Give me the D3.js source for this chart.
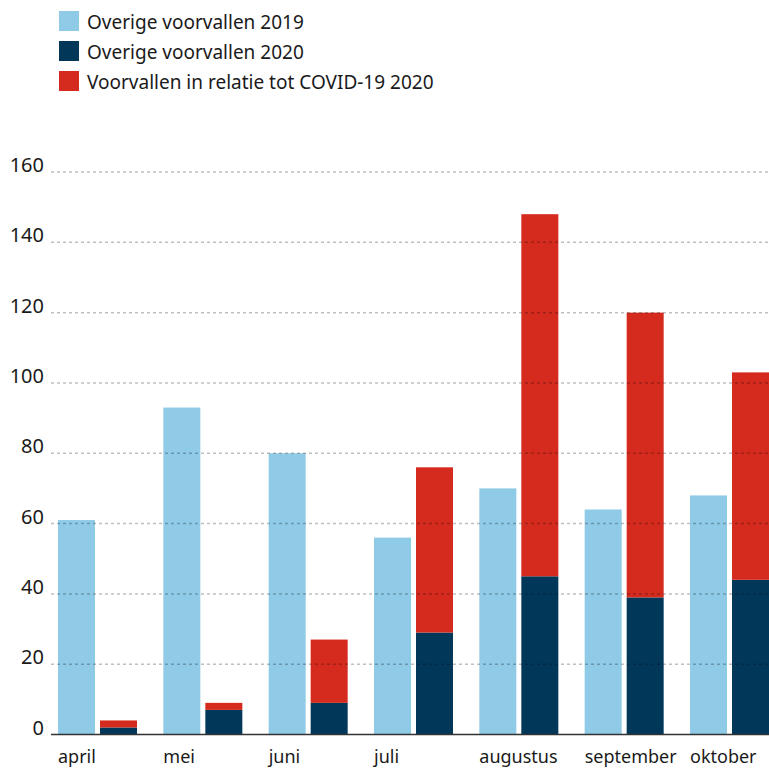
<!DOCTYPE html>
<html><head><meta charset="utf-8">
<script src="https://cdn.jsdelivr.net/npm/d3@7"></script>
<style>body{margin:0;background:#fff}svg{display:block;font-family:"Noto Sans",sans-serif}</style>
</head><body><svg id="c" width="769" height="769"></svg>
<script>
const months = ["april","mei","juni","juli","augustus","september","oktober"];
const overige2019 = [61, 93, 80, 56, 70, 64, 68];
const overige2020 = [2, 7, 9, 29, 45, 39, 44];
const covid2020 = [2, 2, 18, 47, 103, 81, 59];
const yTicks = [0, 20, 40, 60, 80, 100, 120, 140, 160];
const legendLabels = ["Overige voorvallen 2019","Overige voorvallen 2020","Voorvallen in relatie tot COVID-19 2020"];
const colors = ["#8FCAE6","#01385A","#D52B1E"];

const svg = d3.select("#c");
const y = d3.scaleLinear().domain([0,160]).range([734.5,172]);
const x = d3.scaleBand().domain(months).range([58,769]).paddingInner(0.25).paddingOuter(0);

// legend
const lg = svg.append("g");
legendLabels.forEach((t,i)=>{
  lg.append("rect").attr("x",59).attr("y",11+i*30).attr("width",20).attr("height",20).attr("fill",colors[i]);
  lg.append("text").attr("x",87).attr("y",29+i*30).attr("font-size",19).attr("fill","#1a1a1a").text(t);
});

// bars
const g = svg.append("g");
const bw = (x.bandwidth()-5)/2;
months.forEach((m,i)=>{
  const x0 = x(m);
  g.append("rect").attr("x",x0).attr("width",bw).attr("y",y(overige2019[i])).attr("height",y(0)-y(overige2019[i])).attr("fill",colors[0]);
  const x1 = x0+bw+5;
  g.append("rect").attr("x",x1).attr("width",bw).attr("y",y(overige2020[i])).attr("height",y(0)-y(overige2020[i])).attr("fill",colors[1]);
  const tot = overige2020[i]+covid2020[i];
  g.append("rect").attr("x",x1).attr("width",bw).attr("y",y(tot)).attr("height",y(overige2020[i])-y(tot)).attr("fill",colors[2]);
});

// gridlines (over bars)
const grid = svg.append("g");
yTicks.filter(d=>d>0).forEach(d=>{
  grid.append("line").attr("x1",51).attr("x2",769).attr("y1",y(d)).attr("y2",y(d))
    .attr("stroke","#000").attr("stroke-opacity",0.25).attr("stroke-width",1.5).attr("stroke-dasharray","3,3");
});
// y labels
yTicks.forEach(d=>{
  svg.append("text").attr("x",44).attr("y",y(d)).attr("text-anchor","end").attr("font-size",20).attr("fill","#1a1a1a").text(d);
});
// baseline
svg.append("line").attr("x1",51).attr("x2",769).attr("y1",y(0)).attr("y2",y(0)).attr("stroke","#333").attr("stroke-width",1.5);
// x labels
months.forEach(m=>{
  svg.append("text").attr("x",x(m)).attr("y",763).attr("font-size",18).attr("fill","#1a1a1a").text(m);
});
</script></body></html>
